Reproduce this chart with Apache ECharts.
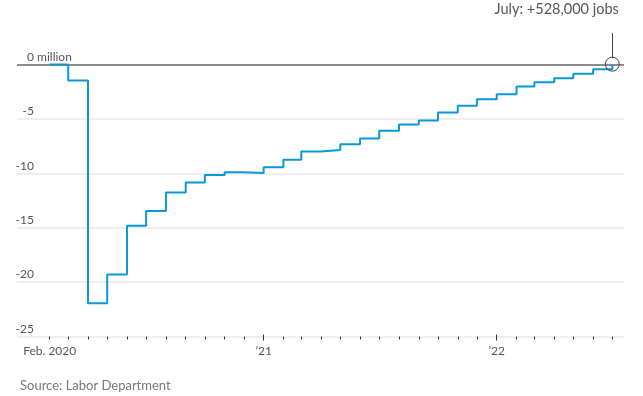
<!DOCTYPE html>
<html>
<head>
<meta charset="utf-8">
<script src="https://cdn.jsdelivr.net/npm/echarts@6/dist/echarts.min.js"></script>
<style>
  html, body { margin: 0; padding: 0; background: #fff; }
  #chart { width: 643px; height: 396px; }
</style>
</head>
<body>
<div id="chart"></div>
<script>
// Months (Feb 2020 – Jul 2022)
const months = [
  '2020-02','2020-03','2020-04','2020-05','2020-06','2020-07','2020-08','2020-09','2020-10','2020-11','2020-12',
  '2021-01','2021-02','2021-03','2021-04','2021-05','2021-06','2021-07','2021-08','2021-09','2021-10','2021-11','2021-12',
  '2022-01','2022-02','2022-03','2022-04','2022-05','2022-06','2022-07'
];
// Cumulative change in jobs since Feb 2020, millions
const jobsChange = [
  0, -1.48, -21.94, -19.3, -14.83, -13.46, -11.77, -10.85, -10.15, -9.9, -9.97,
  -9.45, -8.75, -8.0, -7.85, -7.33, -6.81, -6.1, -5.52, -5.15, -4.42, -3.78, -3.19,
  -2.73, -2.03, -1.63, -1.26, -0.86, -0.43, 0.03
];
// X labels
const xLabelMonths = ['2020-02', '2021-01', '2022-01'];
const xLabelTexts = ['Feb. 2020', '\u201921', '\u201922'];
const longTickMonths = ['2021-01', '2022-01'];
// Y ticks
const yTicks = [-25, -20, -15, -10, -5, 0];
const calloutText = 'July: +528,000 jobs';
const sourceText = 'Source: Labor Department';

function ts(m) { const [y, mo] = m.split('-').map(Number); return Date.UTC(y, mo - 1, 1); }
const data = months.map((m, i) => [ts(m), jobsChange[i]]);
const labelMap = {};
xLabelMonths.forEach((m, i) => { labelMap[ts(m)] = xLabelTexts[i]; });
const lastTs = ts(months[months.length - 1]);
const lastVal = jobsChange[jobsChange.length - 1];

const xMin = Date.UTC(2019, 11, 11, 19);
const xMax = Date.UTC(2022, 6, 19, 8);
const FONT = 'Lato, "Noto Sans", sans-serif';

const chart = echarts.init(document.getElementById('chart'), null, { renderer: 'canvas' });
chart.setOption({
  animation: false,
  grid: { left: 17, right: 19, top: 10.1, bottom: 59.5, containLabel: false },
  title: {
    text: sourceText, left: 15, top: 374,
    textStyle: { fontFamily: FONT, fontSize: 13, fontWeight: 'normal', color: '#777' }
  },
  xAxis: [{
    type: 'value', min: xMin, max: xMax, position: 'bottom',
    axisLine: { show: false, onZero: false },
    splitLine: { show: false },
    axisTick: { show: true, customValues: months.map(ts), length: 3, lineStyle: { color: '#333', width: 1 } },
    axisLabel: {
      customValues: xLabelMonths.map(ts),
      formatter: v => labelMap[v] || '',
      fontFamily: FONT, fontSize: 12, color: '#555', margin: 9
    }
  }, {
    type: 'value', min: xMin, max: xMax, position: 'bottom', offset: -2,
    axisLine: { show: false, onZero: false },
    splitLine: { show: false },
    axisTick: { show: true, customValues: longTickMonths.map(ts), length: 6, lineStyle: { color: '#333', width: 1 } },
    axisLabel: { show: false }
  }],
  yAxis: {
    type: 'value', min: -25, max: 5, interval: 5,
    axisLine: { show: false }, axisTick: { show: false },
    splitLine: { show: true, lineStyle: { color: ['#eeeeee','#eeeeee','#eeeeee','#eeeeee','#eeeeee','#8c8c8c','rgba(0,0,0,0)'], width: 2 } },
    axisLabel: {
      inside: true, margin: 0, align: 'left', verticalAlign: 'bottom',
      formatter: v => yTicks.indexOf(v) < 0 ? '' : (v === 0 ? '{n|0}{m| million}' : '{n|' + v + '}'),
      rich: {
        n: { width: 17, align: 'right', fontFamily: FONT, fontSize: 12, color: '#555', lineHeight: 15 },
        m: { align: 'right', fontFamily: FONT, fontSize: 12, color: '#555', lineHeight: 15 }
      }
    }
  },
  series: [{
    type: 'line', step: 'end', data: data, showSymbol: false, silent: true,
    lineStyle: { color: '#0a98d8', width: 2 },
    markPoint: {
      silent: true,
      data: [{
        coord: [lastTs, lastVal], symbol: 'circle', symbolSize: 14,
        itemStyle: { color: 'rgba(0,0,0,0)', borderColor: '#444', borderWidth: 1 },
        label: {
          show: true, formatter: calloutText, position: [14, -55], align: 'right', verticalAlign: 'top',
          fontFamily: FONT, fontSize: 14.5, color: '#555'
        }
      }]
    },
    markLine: {
      silent: true, symbol: 'none', animation: false,
      label: { show: false },
      lineStyle: { color: '#444', width: 1, type: 'solid' },
      data: [[{ coord: [lastTs, 0.6] }, { coord: [lastTs, 2.9] }]]
    }
  }]
});
</script>
</body>
</html>
